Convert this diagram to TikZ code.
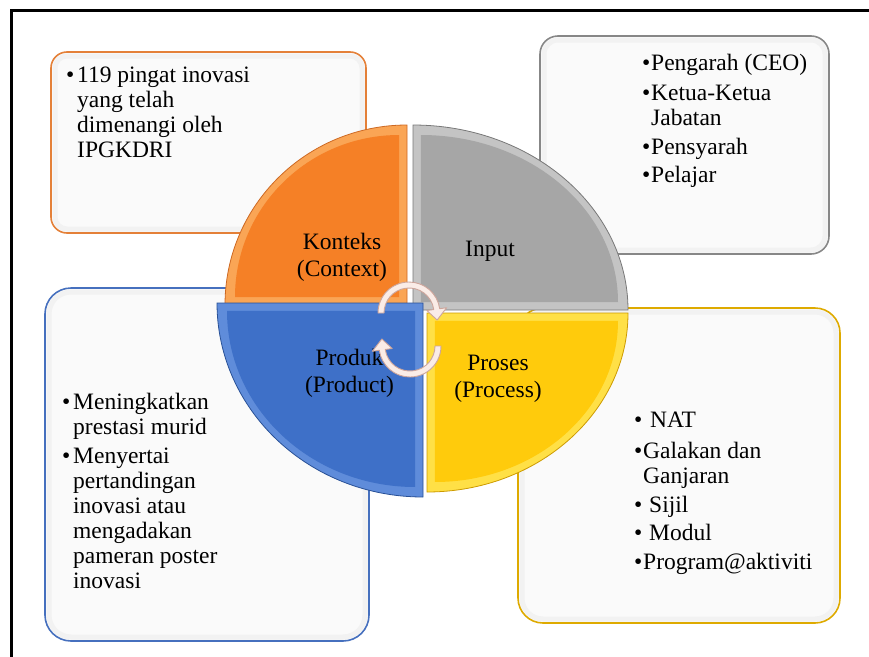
\documentclass[tikz,border=0pt]{standalone}
\usepackage{fontspec}
\setmainfont{LiberationSerif}[Extension=.ttf, UprightFont=*-Regular, BoldFont=*-Bold, ItalicFont=*-Italic, BoldItalicFont=*-BoldItalic]
\usepackage{xcolor}

\definecolor{ctxorange}{RGB}{245,128,38}
\definecolor{ctxlight}{RGB}{250,165,85}
\definecolor{ctxdark}{RGB}{205,105,35}
\definecolor{ctxedge}{RGB}{228,128,56}
\definecolor{inpgray}{RGB}{166,166,166}
\definecolor{inplight}{RGB}{196,196,196}
\definecolor{inpdark}{RGB}{120,120,120}
\definecolor{inpedge}{RGB}{135,135,135}
\definecolor{prdblue}{RGB}{62,112,200}
\definecolor{prdlight}{RGB}{95,140,218}
\definecolor{prddark}{RGB}{40,80,150}
\definecolor{prdedge}{RGB}{70,112,190}
\definecolor{prsyellow}{RGB}{255,203,12}
\definecolor{prslight}{RGB}{255,224,70}
\definecolor{prsdark}{RGB}{205,155,0}
\definecolor{prsedge}{RGB}{222,170,0}
\definecolor{arrfill}{RGB}{250,236,231}
\definecolor{arredge}{RGB}{205,165,155}

\newcommand{\bul}[1][10pt]{\makebox[#1][l]{\textbullet}}

\begin{document}
\begin{tikzpicture}[x=1pt,y=1pt,
  infobox/.style={draw=#1, line width=1.6pt, fill=white!98!black},
  pielabel/.style={align=center, inner sep=0pt, font=\fontsize{23.5}{27.5}\selectfont},
  listtext/.style={align=left, inner sep=0pt, anchor=north west, font=\fontsize{23.5}{25}\selectfont},
  cyclearrow/.style={fill=arrfill, draw=arredge, line width=0.9pt, line join=round}]
\useasboundingbox (0,0) rectangle (869,-656);
\clip (0,0) rectangle (869,-656);
% outer frame, it runs off the page right and below
\draw[line width=2.5pt] (11.3,-10.5) rectangle (900,-700);

% the four text boxes, behind the quadrants, with a faint inner glow
\foreach \xa/\ya/\xb/\yb/\r/\ec in {
    51/-52/366/-233/16/ctxedge,
    540/-36/829/-254/18/inpedge,
    45/-288/369/-641/26/prdedge,
    518/-308/840/-623/25/prsedge} {
  \draw[infobox=\ec, rounded corners=\r pt] (\xa,\ya) rectangle (\xb,\yb);
  \draw[black!5, line width=5pt, rounded corners=\r pt-4pt]
    (\xa+4,\ya-4) rectangle (\xb-4,\yb+4);
}

% quadrants: corner, radii, start angle, colours
\foreach \cx/\cy/\rx/\ry/\a/\qmain/\qrim/\qedge in {
    407/-305/182/180/90/ctxorange/ctxlight/ctxdark,
    413/-310/215/185/0/inpgray/inplight/inpdark,
    427/-313/201/179/270/prsyellow/prslight/prsdark,
    423/-303/206/194/180/prdblue/prdlight/prddark} {
  \filldraw[fill=\qrim, draw=\qedge, line width=0.8pt]
    (\cx,\cy) -- ({\cx+\rx*cos(\a)},{\cy+\ry*sin(\a)})
    arc[start angle=\a, end angle=\a+90, x radius=\rx, y radius=\ry] -- cycle;
  \fill[\qmain] ({\cx+11.3*cos(\a+45)},{\cy+11.3*sin(\a+45)})
    -- ++({(\rx-18)*cos(\a)},{(\ry-18)*sin(\a)})
    arc[start angle=\a, end angle=\a+90, x radius=\rx-18, y radius=\ry-18] -- cycle;
}

% quadrant labels
\node[pielabel] (ctxlabel) at (342,-257.5) {Konteks\\(Context)};
\node[pielabel] (inplabel) at (490,-251.5) {Input};
\node[pielabel] (prdlabel) at (349.5,-373.5) {Produk\\(Product)};
\node[pielabel] (prslabel) at (498,-379) {Proses\\(Process)};

% the cycle arrows in the middle
\coordinate (uc) at (409,-313);
\coordinate (lc) at (410,-346);
\filldraw[cyclearrow] ([shift={(180:31)}]uc) arc[start angle=180, end angle=8, radius=31]
  -- ([shift={(8:38)}]uc) -- ([shift={(-14:29)}]uc) -- ([shift={(8:18)}]uc)
  -- ([shift={(8:25)}]uc) arc[start angle=8, end angle=180, radius=25] -- cycle;
\filldraw[cyclearrow] ([shift={(0:31)}]lc) arc[start angle=0, end angle=-172, radius=31]
  -- ([shift={(-172:38)}]lc) -- ([shift={(166:29)}]lc) -- ([shift={(-172:18)}]lc)
  -- ([shift={(-172:25)}]lc) arc[start angle=-172, end angle=0, radius=25] -- cycle;

% box texts
\node[listtext] (ctxtext) at (66,-67) {\bul[11pt]119 pingat inovasi\\
  \hspace*{11pt}yang telah\\
  \hspace*{11pt}dimenangi oleh\\
  \hspace*{11pt}IPGKDRI};
\node[listtext] (inptext) at (642,-53.8) {\bul[9pt]Pengarah (CEO)\\[5pt]
  \bul[9pt]Ketua-Ketua\\
  \hspace*{9pt}Jabatan\\[4pt]
  \bul[9pt]Pensyarah\\[3pt]
  \bul[9pt]Pelajar};
\node[listtext] (prdtext) at (62,-393) {\bul[11pt]Meningkatkan\\
  \hspace*{11pt}prestasi murid\\[4pt]
  \bul[11pt]Menyertai\\
  \hspace*{11pt}pertandingan\\
  \hspace*{11pt}inovasi atau\\
  \hspace*{11pt}mengadakan\\
  \hspace*{11pt}pameran poster\\
  \hspace*{11pt}inovasi};
\node[listtext] (prstext) at (634,-411.4) {\bul[16pt]NAT\\[6pt]
  \bul[9pt]Galakan dan\\
  \hspace*{9pt}Ganjaran\\[4pt]
  \bul[15pt]Sijil\\[3pt]
  \bul[15pt]Modul\\[4pt]
  \bul[9pt]Program@aktiviti};
\end{tikzpicture}
\end{document}
